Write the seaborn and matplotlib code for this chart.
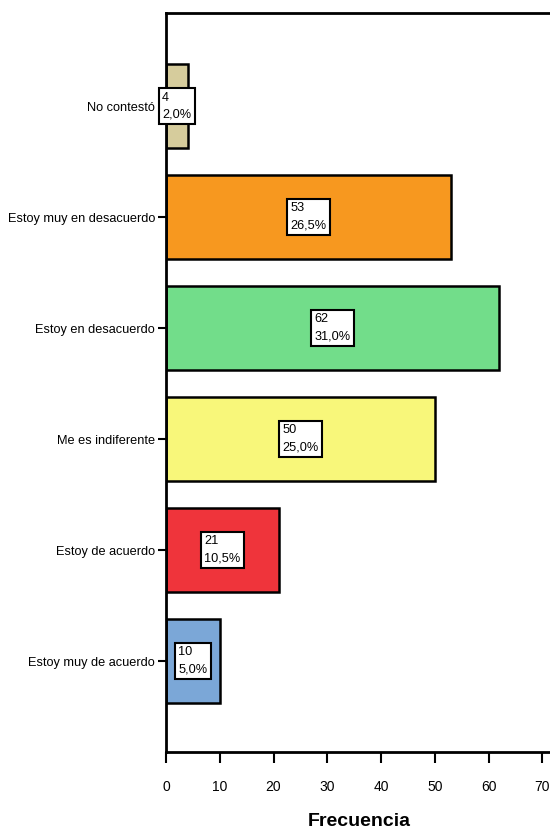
import matplotlib
matplotlib.use("Agg")
import matplotlib.pyplot as plt
import seaborn as sns
import pandas as pd
from matplotlib import font_manager

categories = ["No contestó", "Estoy muy en desacuerdo", "Estoy en desacuerdo",
              "Me es indiferente", "Estoy de acuerdo", "Estoy muy de acuerdo"]
counts = [4, 53, 62, 50, 21, 10]
percents = ["2,0%", "26,5%", "31,0%", "25,0%", "10,5%", "5,0%"]
colors = ["#d6cc9c", "#f7981f", "#72dd8a", "#f8f77a", "#ef343b", "#7ba7d7"]
xticks = [0, 10, 20, 30, 40, 50, 60, 70]

sns.set_style("white")
names = {f.name for f in font_manager.fontManager.ttflist}
fam = ["Liberation Sans Narrow", "Liberation Sans", "DejaVu Sans"]
fam = [f for f in fam if f in names] or ["DejaVu Sans"]
plt.rcParams["font.family"] = fam
plt.rcParams["text.color"] = "black"
plt.rcParams["xtick.color"] = "black"
plt.rcParams["ytick.color"] = "black"
plt.rcParams["axes.labelcolor"] = "black"

df = pd.DataFrame({"cat": categories, "n": counts})

fig = plt.figure(figsize=(5.5, 8.36), dpi=100)
ax = fig.add_axes([166/550, 1-752/836, 387/550, (752-13)/836])
sns.barplot(data=df, y="cat", x="n", hue="cat", palette=colors, order=categories,
            hue_order=categories, width=0.757, edgecolor="black", linewidth=1.8,
            legend=False, ax=ax, saturation=1)

for i, (c, p) in enumerate(zip(counts, percents)):
    ax.text(c/2, i, f"{c}\n{p}", ha="center", va="center", fontsize=9.2,
            multialignment="left", linespacing=1.6, color="black",
            bbox=dict(boxstyle="square,pad=0.25", fc="white", ec="black", lw=1.5))

ax.set_xlim(0, 72)
ax.set_ylim(5.82, -0.84)
ax.set_xticks(xticks)
ax.set_xticklabels([str(t) for t in xticks], fontsize=10)
ax.tick_params(axis="y", labelsize=9.2, length=6, width=1.5, direction="out", left=True, pad=2)
ax.tick_params(axis="x", length=8, width=1.5, direction="out", bottom=True, pad=12)
ax.set_ylabel("")
ax.set_xlabel("Frecuencia", fontsize=14, fontweight="bold", labelpad=14)
for s in ax.spines.values():
    s.set_linewidth(2)
    s.set_color("black")

fig.savefig("out.png", dpi=100)
